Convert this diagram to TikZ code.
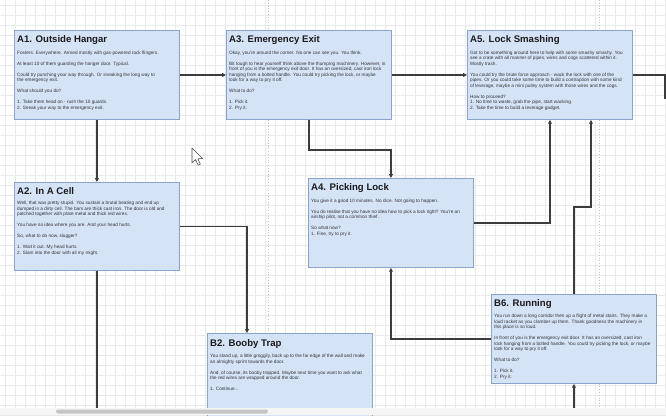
\documentclass[tikz,border=0pt]{standalone}
\usepackage{fontspec}
\setmainfont{Liberation Sans}
\usetikzlibrary{calc,arrows.meta}
\definecolor{boxfill}{HTML}{D5E3F7}
\definecolor{boxline}{HTML}{8AA3CA}
\definecolor{wire}{HTML}{3C3C3C}
\definecolor{gridc}{HTML}{EAEAEA}
\definecolor{pagec}{HTML}{C4C4C4}
\definecolor{txt}{HTML}{333333}
\definecolor{ttl}{HTML}{1A1A1A}
\begin{document}
\begin{tikzpicture}[x=1pt,y=-1pt,
 card/.style={draw=boxline, fill=boxfill, line width=0.9pt, anchor=north west, inner sep=0pt, minimum width=165pt, minimum height=89pt},
 cardtitle/.style={anchor=base west, inner sep=0pt, font=\fontsize{9.6}{11}\selectfont\bfseries, text=ttl},
 cardbody/.style={anchor=north west, inner sep=0pt, align=left, font=\fontsize{4.7}{5.5}\selectfont, text=txt},
 link/.style={draw=wire, line width=1.2pt, -{Triangle[length=3.8pt,width=3.8pt]}},
 plain/.style={draw=wire, line width=1.2pt},
 gridline/.style={draw=gridc, line width=0.5pt},
 pageline/.style={draw=pagec, dotted, line width=0.8pt},
]
\clip (0,0) rectangle (666,415);
\fill[white] (0,0) rectangle (666,415);
% grid
\foreach \gx in {5,15,...,665} \draw[gridline] (\gx,0) -- (\gx,415);
\foreach \gy in {5,15,...,415} \draw[gridline] (0,\gy) -- (666,\gy);
% page breaks
\draw[pageline] (268,0) -- (268,408);
\draw[pageline] (599,0) -- (599,408);

% cards
\node[card] (a1) at (14,30) {};
\node[card] (a3) at (226,30) {};
\node[card] (a5) at (467,30) {};
\node[card, minimum height=88pt] (a2) at (14,182) {};
\node[card] (a4) at (308,178) {};
\node[card] (b6) at (491,294) {};
\node[card, minimum height=90pt] (b2) at (207,333) {};

% connectors
\coordinate (a2end) at ($(a2.south)+(0,138)$);
\coordinate (b6in) at ($(b6.south)+(0,25)$);
\coordinate (a5out) at (668,98);
\draw[link] (a1.east) -- (a3.west);
\draw[link] (a1.south) -- (a2.north);
\draw[link] (a3.east) -- (a5.west);
\draw[link] (a3.south) -- ++(0,30) -| (a4.north);
\draw[plain] (a5.east) -- ++(32,0) |- (a5out);
\draw[link] (a2.east) -| ($(b2.north west)+(40,0)$);
\draw[plain] (a2.south) -- (a2end);
\draw[link] (a4.east) -| (a5.south);
\draw[link] (b6.north) -- ++(0,-87) -| ($(a5.south)+(41,0)$);
\draw[link] (b6.west) -| (a4.south);
\draw[link] (b6in) -- (b6.south);

% texts
\node[cardtitle] (a1t) at ($(a1.north west)+(3,12)$) {A1. Outside Hangar};
\node[cardbody] (a1b) at ($(a1.north west)+(3,20.5)$) {Fosters. Everywhere. Armed mostly with gas-powered rock flingers.\\[5.5pt]
At least 10 of them guarding the hanger door. Typical.\\[5.5pt]
Could try punching your way through. Or sneaking the long way to\\
the emergency exit.\\[5.5pt]
What should you do?\\[5.5pt]
1. Take them head on - rush the 10 guards.\\
2. Sneak your way to the emergency exit.};

\node[cardtitle] (a3t) at ($(a3.north west)+(3,12)$) {A3. Emergency Exit};
\node[cardbody] (a3b) at ($(a3.north west)+(3,20.5)$) {Okay, you're around the corner. No one can see you. You think.\\[5.5pt]
Bit tough to hear yourself think above the thumping machinery. However, in\\
front of you is the emergency exit door. It has an oversized, cast iron lock\\
hanging from a bolted handle. You could try picking the lock, or maybe\\
look for a way to pry it off.\\[5.5pt]
What to do?\\[5.5pt]
1. Pick it.\\
2. Pry it.};

\node[cardtitle] (a5t) at ($(a5.north west)+(3,12)$) {A5. Lock Smashing};
\node[cardbody] (a5b) at ($(a5.north west)+(3,20.5)$) {Got to be something around here to help with some smashy smashy. You\\
see a crate with all manner of pipes, wires and cogs scattered within it.\\
Mostly trash.\\[5.5pt]
You could try the brute force approach - wack the lock with one of the\\
pipes. Or you could take some time to build a contraption with some kind\\
of leverage, maybe a mini pulley system with those wires and the cogs.\\[5.5pt]
How to proceed?\\
1. No time to waste, grab the pipe, start wacking.\\
2. Take the time to build a leverage gadget.};

\node[cardtitle] (a2t) at ($(a2.north west)+(3,12)$) {A2. In A Cell};
\node[cardbody] (a2b) at ($(a2.north west)+(3,19)$) {Well, that was pretty stupid. You sustain a brutal beating and end up\\
dumped in a dirty cell. The bars are thick cast iron. The door is old and\\
patched together with plate metal and thick red wires.\\[5.5pt]
You have no idea where you are. And your head hurts.\\[5.5pt]
So, what to do now, slugger?\\[5.5pt]
1. Wait it out. My head hurts.\\
2. Slam into the door with all my might.};

\node[cardtitle] (a4t) at ($(a4.north west)+(3,12)$) {A4. Picking Lock};
\node[cardbody] (a4b) at ($(a4.north west)+(3,20.5)$) {You give it a good 10 minutes. No dice. Not going to happen.\\[5.5pt]
You do realise that you have no idea how to pick a lock right? You're an\\
airship pilot, not a common thief.\\[5.5pt]
So what now?\\
1. Fine, try to pry it.};

\node[cardtitle] (b6t) at ($(b6.north west)+(3,12)$) {B6. Running};
\node[cardbody] (b6b) at ($(b6.north west)+(3,20)$) {You run down a long corridor then up a flight of metal stairs. They make a\\
loud racket as you clamber up them. Thank goodness the machinery in\\
this place is so loud.\\[5.5pt]
In front of you is the emergency exit door. It has an oversized, cast iron\\
lock hanging from a bolted handle. You could try picking the lock, or maybe\\
look for a way to pry it off.\\[5.5pt]
What to do?\\[5.5pt]
1. Pick it.\\
2. Pry it.};

\node[cardtitle] (b2t) at ($(b2.north west)+(3,13.5)$) {B2. Booby Trap};
\node[cardbody] (b2b) at ($(b2.north west)+(3,21)$) {You stand up, a little groggily, back up to the far edge of the wall and make\\
an almighty sprint towards the door.\\[5.5pt]
And, of course, its booby trapped. Maybe next time you want to ask what\\
the red wires are wrapped around the door.\\[5.5pt]
1. Continue...};

% bottom scroll bar
\fill[gray!8] (0,407.5) rectangle (666,415);
\fill[gray!45, rounded corners=2pt] (56,409.5) rectangle (268,413.5);

% mouse cursor
\draw[fill=white, draw=gray!60!black, line width=0.6pt, line join=round]
  (192,148) -- (192,163) -- (195.5,159.6) -- (198.2,165.2) -- (200.4,164.2) -- (197.8,158.8) -- (202.6,158.6) -- cycle;
\end{tikzpicture}
\end{document}
